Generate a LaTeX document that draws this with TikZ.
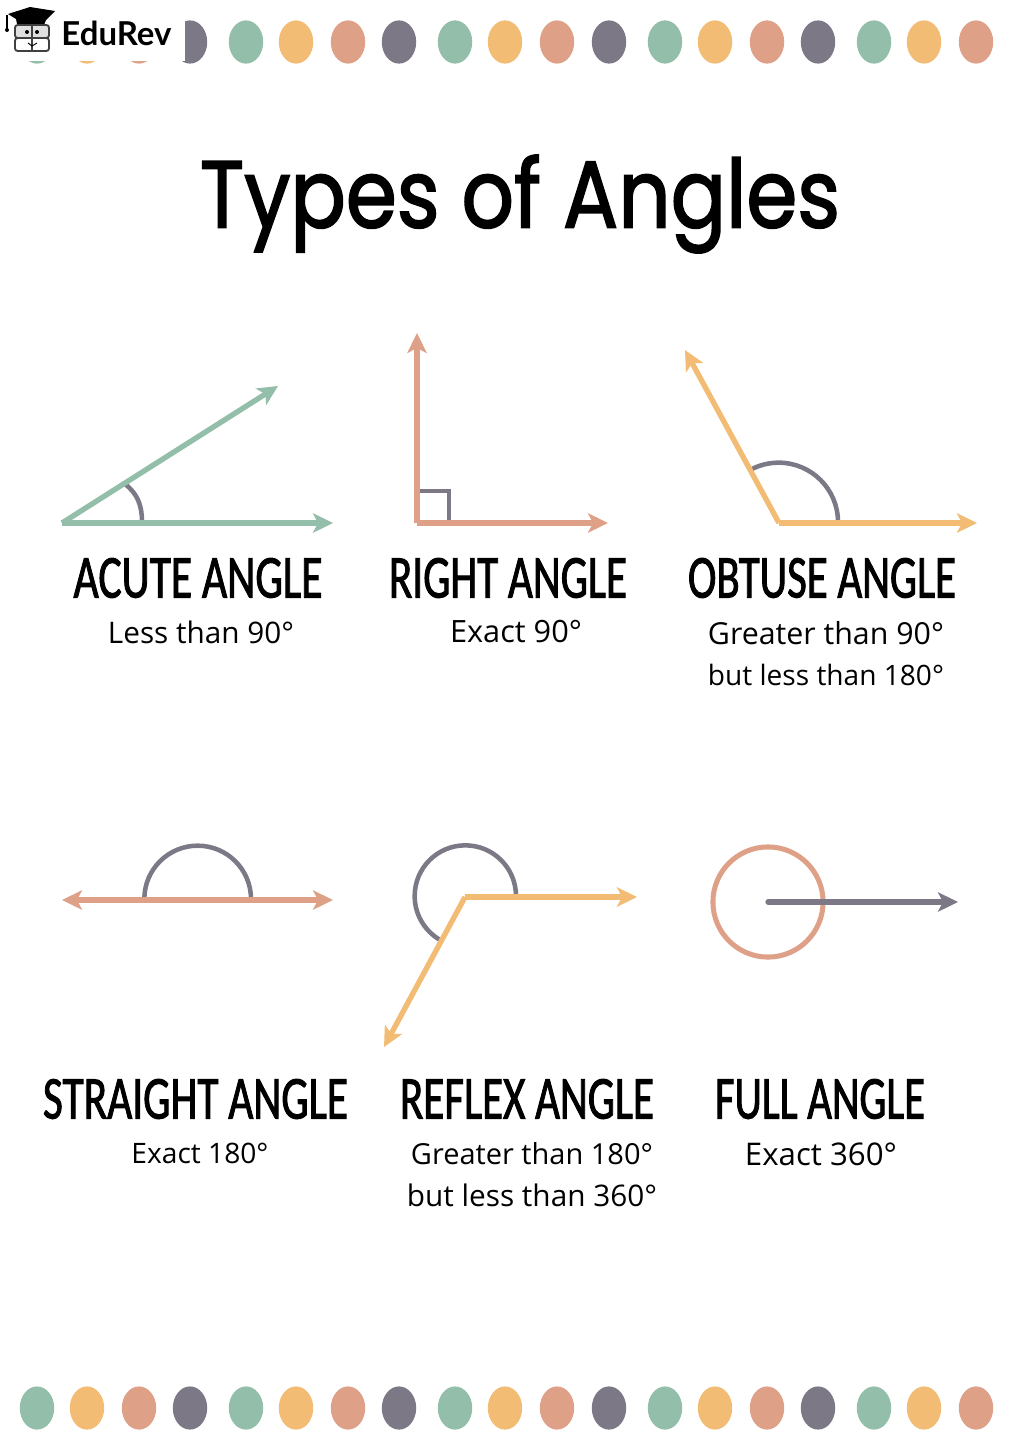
\documentclass[tikz,border=0pt]{standalone}
\usepackage{fontspec}
\usepackage{graphicx}
\usetikzlibrary{arrows.meta}
\setmainfont{Lato}
\newfontfamily\headfont{Carlito}[FakeStretch=0.85,FakeBold=1.6]
\newfontfamily\titlefont{Poppins}[FakeBold=2]
\newfontfamily\subfont{Open Sans}
\definecolor{cgreen}{HTML}{93BEA9}
\definecolor{corange}{HTML}{F2BC74}
\definecolor{csalmon}{HTML}{DFA088}
\definecolor{cgray}{HTML}{7D7886}
\newlength{\unitpx}\setlength{\unitpx}{0.75pt}
\newcommand{\fitbox}[3]{\resizebox*{#1\unitpx}{#2\unitpx}{#3}}
\newcommand{\fitw}[2]{\resizebox{#1\unitpx}{!}{#2}}
\tikzset{
  x=0.75pt,y=0.75pt,
  ray/.style={line width=4pt,line join=miter},
  tip/.style={-{Stealth[length=15pt,width=14.5pt,inset=3.8pt]}},
  bothtip/.style={{Stealth[length=15pt,width=14.5pt,inset=3.8pt]}-{Stealth[length=15pt,width=14.5pt,inset=3.8pt]}},
  mark arc/.style={line width=3.4pt,cgray},
  heading/.style={inner sep=0pt,font=\headfont,anchor=center},
  subtext/.style={inner sep=0pt,font=\subfont,anchor=center},
}
\newcommand{\dotrow}[1]{%
  \foreach \xx/\cc in {37/cgreen,87/corange,139/csalmon,190/cgray,246/cgreen,296/corange,348/csalmon,399/cgray,455/cgreen,505/corange,557/csalmon,609/cgray,665/cgreen,715/corange,767/csalmon,818/cgray,874/cgreen,924/corange,976/csalmon}{%
    \fill[\cc] (\xx,#1) ellipse [x radius=12.9pt,y radius=16.2pt];
  }}
\begin{document}
\begin{tikzpicture}
\useasboundingbox (0,0) rectangle (1024,-1449);
\fill[white] (0,0) rectangle (1024,-1449);
% dot rows
\dotrow{-42}
\dotrow{-1408}
% logo
\fill[white] (0,0) rectangle (185,-60.5);
\fill[black] (8,-14) -- (30,-7) -- (55,-11) -- (46,-20) -- (44,-25) -- (17,-24) -- (16,-19) -- cycle;
\draw[black,line width=0.8pt] (7,-15) -- (7,-29);
\fill[black] (7,-30) circle [radius=1.5pt];
\draw[black!75,fill=black!12,line width=1.4pt,rounded corners=2pt] (15,-25) rectangle (49,-38);
\draw[black!75,fill=white,line width=1.4pt,rounded corners=2pt] (15,-38) rectangle (49,-51);
\draw[black!75,line width=1pt] (32,-25) -- (32,-51);
\fill[black] (27,-32) circle [radius=1.5pt] (37,-32) circle [radius=1.5pt];
\draw[black,line width=0.7pt] (28,-43) -- (32,-46) -- (37,-43);
\node[inner sep=0pt] (logotext) at (116.5,-33.5) {\fitw{110}{\bfseries EduRev}};
% title
\node[inner sep=0pt] (title) at (520,-204) {\fitbox{640}{98}{\titlefont Types of Angles}};
% acute
\coordinate (av) at (62,-523);
\coordinate (aa) at (278,-386);
\coordinate (ab) at (333,-523);
\coordinate (aarc1) at (142,-522);
\coordinate (aarc2) at (125,-484);
\draw[mark arc] (aarc1) to[out=90,in=-38] (aarc2);
\draw[ray,cgreen,tip] (av) -- (aa);
\draw[ray,cgreen,tip] (av) -- (ab);
% right
\coordinate (rv) at (417,-523);
\coordinate (ra) at (417,-333);
\coordinate (rb) at (608,-523);
\draw[mark arc] (417,-491) -| (449,-523);
\draw[ray,csalmon,tip] (rv) -- (ra);
\draw[ray,csalmon,tip] (rv) -- (rb);
% obtuse
\coordinate (ov) at (779,-523);
\coordinate (oa) at (685,-350);
\coordinate (ob) at (977,-523);
\draw[mark arc] (838,-522) arc [start angle=0,end angle=118,radius=44.5pt];
\draw[ray,corange,tip] (ov) -- (oa);
\draw[ray,corange,tip] (ov) -- (ob);
% straight
\coordinate (sa) at (62,-900);
\coordinate (sb) at (333,-900);
\draw[mark arc] (251,-899) arc [start angle=0,end angle=180,radius=40pt];
\draw[ray,csalmon,bothtip] (sa) -- (sb);
% reflex
\coordinate (xv) at (465,-897);
\coordinate (xa) at (637,-897);
\coordinate (xb) at (384,-1047);
\draw[mark arc] (516,-896) arc [start angle=0,end angle=240,radius=38pt];
\draw[ray,corange,tip] (xv) -- (xa);
\draw[ray,corange,tip] (xv) -- (xb);
% full
\coordinate (fc) at (768,-902);
\coordinate (fa) at (958,-902);
\draw[line width=3.8pt,csalmon] (fc) circle [radius=41.3pt];
\draw[ray,cgray,tip,line cap=round] (fc) -- (fa);
% headings
\node[heading] (h1) at (198,-578) {\fitbox{249}{40}{ACUTE ANGLE}};
\node[heading] (h2) at (508,-578) {\fitbox{238}{40}{RIGHT ANGLE}};
\node[heading] (h3) at (822,-578) {\fitbox{268}{40}{OBTUSE ANGLE}};
\node[heading] (h4) at (195.5,-1099) {\fitbox{305}{40}{STRAIGHT ANGLE}};
\node[heading] (h5) at (527,-1099) {\fitbox{254}{40}{REFLEX ANGLE}};
\node[heading] (h6) at (820,-1099) {\fitbox{210}{40}{FULL ANGLE}};
% sub texts
\node[subtext] (s1) at (201,-632) {\fitw{186}{Less than 90°}};
\node[subtext] (s2) at (516,-632) {\fitw{132}{Exact 90°}};
\node[subtext] (s3) at (826,-633) {\fitw{236}{Greater than 90°}};
\node[subtext] (s3b) at (826,-675) {\fitw{236}{but less than 180°}};
\node[subtext] (s4) at (200,-1153) {\fitw{137}{Exact 180°}};
\node[subtext] (s5) at (532,-1154) {\fitw{242}{Greater than 180°}};
\node[subtext] (s5b) at (532,-1195) {\fitw{250}{but less than 360°}};
\node[subtext] (s6) at (821,-1154) {\fitw{152}{Exact 360°}};
\end{tikzpicture}
\end{document}
